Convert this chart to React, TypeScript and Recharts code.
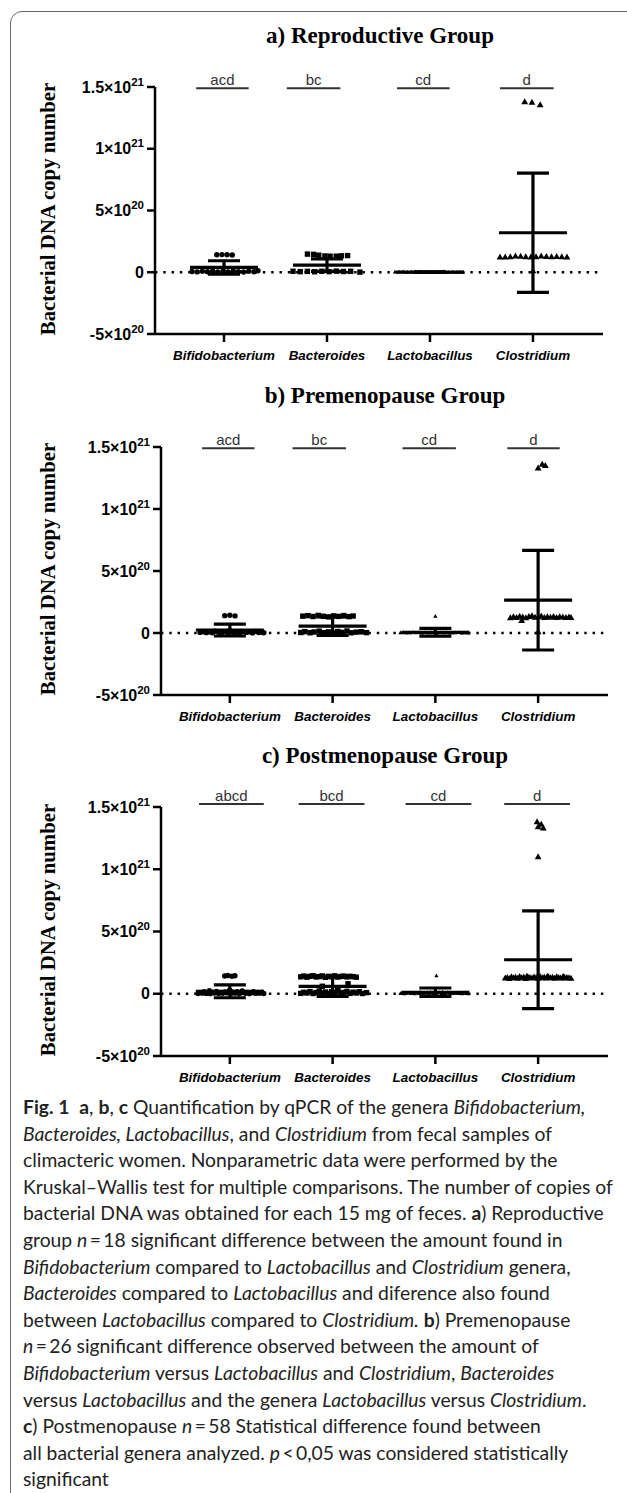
import React from "react";
import { ScatterChart, Scatter, XAxis, YAxis, ErrorBar, ReferenceLine } from "recharts";

type Pt = [number, number]; // [horizontal spread inside the group, copy number]

const GENERA = ["Bifidobacterium", "Bacteroides", "Lactobacillus", "Clostridium"];
const TITLES = ["a) Reproductive Group", "b) Premenopause Group", "c) Postmenopause Group"];
const Y_TICKS = [-5e20, 0, 5e20, 1e21, 1.5e21];

const SIG_A = ["acd", "bc", "cd", "d"];
const SIG_B = ["acd", "bc", "cd", "d"];
const SIG_C = ["abcd", "bcd", "cd", "d"];

// mean and SD per genus
const MEAN_A = [3.9e19, 5.8e19, 0.15e19, 3.2e20];
const SD_A = [5.4e19, 5.1e19, 0.25e19, 4.83e20];
const MEAN_B = [2.4e19, 5.5e19, 0.6e19, 2.65e20];
const SD_B = [4.8e19, 7.5e19, 3.2e19, 4.02e20];
const MEAN_C = [2.0e19, 5.9e19, 1.2e19, 2.73e20];
const SD_C = [5.2e19, 8.0e19, 3.4e19, 3.93e20];

// ---- a) reproductive, n = 18
const BIFIDO_A: Pt[] = [
  [-0.07, 1.42e20], [-0.02, 1.43e20], [0.03, 1.42e20], [0.08, 1.4e20],
  [-0.31, 0.6e19], [-0.26, 0.3e19], [-0.21, 0.9e19], [-0.16, 0.4e19], [-0.11, 1.1e19], [-0.06, 0.2e19],
  [-0.01, 0.8e19], [0.04, 0.3e19], [0.09, 1.0e19], [0.14, 0.5e19], [0.19, 0.2e19], [0.24, 0.9e19],
  [0.29, 0.4e19], [0.33, 1.2e19],
];
const BACTER_A: Pt[] = [
  [-0.19, 1.47e20], [-0.13, 1.45e20], [-0.08, 1.38e20], [-0.02, 1.32e20], [0.03, 1.3e20], [0.09, 1.3e20],
  [0.14, 1.33e20], [0.2, 1.35e20],
  [-0.33, 0.8e19], [-0.26, 0.5e19], [-0.19, 0.7e19], [-0.12, 0.4e19], [-0.05, 0.8e19], [0.02, 0.5e19],
  [0.09, 0.9e19], [0.16, 0.6e19], [0.23, 0.8e19], [0.32, 0.1e19],
];
const LACTO_A: Pt[] = [
  [-0.34, 0.3e19], [-0.3, 0.2e19], [-0.26, 0.5e19], [-0.22, 0.1e19], [-0.18, 0.3e19], [-0.14, 0.2e19],
  [-0.1, 0.4e19], [-0.06, 0.1e19], [-0.02, 0.2e19], [0.02, 0.3e19], [0.06, 0.1e19], [0.1, 0.2e19],
  [0.14, 0.4e19], [0.18, 0.1e19], [0.22, 0.2e19], [0.26, 0.1e19], [0.29, 0.3e19], [0.32, 0.1e19],
];
const CLOST_A: Pt[] = [
  [-0.08, 1.38e21], [-0.01, 1.375e21], [0.07, 1.355e21],
  [-0.32, 1.22e20], [-0.27, 1.22e20], [-0.22, 1.24e20], [-0.17, 1.3e20], [-0.12, 1.28e20], [-0.07, 1.25e20],
  [-0.02, 1.22e20], [0.03, 1.24e20], [0.08, 1.3e20], [0.13, 1.27e20], [0.18, 1.25e20], [0.23, 1.26e20],
  [0.28, 1.24e20], [0.33, 1.22e20],
  [0.0, 1.2e19],
];

// ---- b) premenopause, n = 26
const BIFIDO_B: Pt[] = [
  [-0.05, 1.4e20], [0.0, 1.43e20], [0.05, 1.38e20],
  [-0.29, 0.5e19], [-0.26, 1.2e19], [-0.23, 0.3e19], [-0.2, 0.9e19], [-0.17, 0.2e19], [-0.14, 1.4e19],
  [-0.11, 0.6e19], [-0.08, 0.1e19], [-0.05, 1.0e19], [-0.02, 0.4e19], [0.0, 2.0e19], [0.01, 1.5e19],
  [0.04, 0.3e19], [0.07, 0.8e19], [0.1, 0.2e19], [0.13, 1.1e19], [0.16, 0.5e19], [0.19, 0.9e19],
  [0.22, 0.1e19], [0.25, 1.3e19], [0.28, 0.4e19], [0.31, 0.7e19], [0.33, 0.2e19],
];
const BACTER_B: Pt[] = [
  [-0.29, 1.36e20], [-0.24, 1.4e20], [-0.19, 1.33e20], [-0.14, 1.42e20], [-0.09, 1.35e20], [-0.04, 1.3e20],
  [0.01, 1.38e20], [0.06, 1.34e20], [0.11, 1.41e20], [0.16, 1.32e20], [0.2, 1.37e20],
  [-0.31, 0.4e19], [-0.27, 1.1e19], [-0.22, 0.2e19], [-0.18, 0.8e19], [-0.13, 1.5e19], [-0.09, 0.3e19],
  [-0.04, 0.9e19], [0.0, 0.1e19], [0.05, 1.2e19], [0.09, 0.5e19], [0.14, 1.6e19], [0.18, 0.2e19],
  [0.23, 0.7e19], [0.28, 1.0e19], [0.33, 0.3e19],
];
const LACTO_B: Pt[] = [
  [0.0, 1.36e20],
  [-0.34, 0.2e19], [-0.31, 0.5e19], [-0.28, 0.1e19], [-0.25, 0.3e19], [-0.22, 0.6e19], [-0.19, 0.2e19],
  [-0.16, 0.4e19], [-0.13, 0.1e19], [-0.1, 0.5e19], [-0.07, 0.2e19], [-0.04, 0.3e19], [-0.01, 0.6e19],
  [0.02, 0.1e19], [0.05, 0.4e19], [0.08, 0.2e19], [0.11, 0.5e19], [0.14, 0.1e19], [0.17, 0.3e19],
  [0.2, 0.2e19], [0.23, 0.4e19], [0.26, 0.1e19], [0.28, 0.3e19], [0.3, 0.2e19], [0.31, 0.5e19], [0.32, 0.1e19],
];
const CLOST_B: Pt[] = [
  [0.0, 1.33e21], [0.04, 1.36e21], [0.07, 1.35e21],
  [-0.27, 1.22e20], [-0.24, 1.3e20], [-0.21, 1.25e20], [-0.18, 1.35e20], [-0.15, 1.28e20], [-0.12, 1.22e20],
  [-0.09, 1.32e20], [-0.06, 1.38e20], [-0.03, 1.26e20], [0.0, 1.3e20], [0.03, 1.36e20], [0.06, 1.24e20],
  [0.09, 1.3e20], [0.12, 1.27e20], [0.15, 1.33e20], [0.18, 1.25e20], [0.21, 1.3e20], [0.24, 1.28e20],
  [0.27, 1.24e20], [0.3, 1.29e20], [0.32, 1.25e20],
  [-0.16, 1.0e20], [0.0, 1.0e19],
];

// ---- c) postmenopause, n = 58
const BIFIDO_C: Pt[] = [
  [-0.05, 1.42e20], [-0.02, 1.46e20], [0.02, 1.4e20], [0.05, 1.44e20],
  [-0.31, 0.2e19], [-0.29, 1.1e19], [-0.27, 0.5e19], [-0.25, 1.6e19], [-0.23, 0.3e19], [-0.21, 0.9e19],
  [-0.19, 0.1e19], [-0.17, 1.3e19], [-0.15, 0.6e19], [-0.13, 1.8e19], [-0.11, 0.2e19], [-0.09, 1.0e19],
  [-0.07, 0.4e19], [-0.05, 1.5e19], [-0.03, 0.7e19], [-0.01, 2.1e19], [0.01, 0.3e19], [0.03, 1.2e19],
  [0.05, 0.5e19], [0.07, 1.7e19], [0.09, 0.2e19], [0.11, 0.8e19], [0.13, 1.4e19], [0.15, 0.4e19],
  [0.17, 1.1e19], [0.19, 0.1e19], [0.21, 0.9e19], [0.23, 1.6e19], [0.25, 0.3e19], [0.27, 1.0e19],
  [0.29, 0.5e19], [0.31, 1.3e19], [0.33, 0.2e19], [-0.2, 2.4e19], [0.0, 2.8e19], [0.12, 2.2e19],
];
const BACTER_C: Pt[] = [
  [-0.31, 1.36e20], [-0.28, 1.42e20], [-0.25, 1.33e20], [-0.22, 1.4e20], [-0.19, 1.45e20], [-0.16, 1.35e20],
  [-0.13, 1.38e20], [-0.1, 1.43e20], [-0.07, 1.32e20], [-0.04, 1.4e20], [-0.01, 1.36e20], [0.02, 1.44e20],
  [0.05, 1.34e20], [0.08, 1.39e20], [0.11, 1.42e20], [0.14, 1.35e20], [0.17, 1.4e20], [0.2, 1.37e20],
  [0.23, 1.33e20],
  [-0.1, 0.6e20], [0.05, 0.4e20], [0.15, 0.8e20],
  [-0.31, 0.3e19], [-0.28, 1.2e19], [-0.25, 0.6e19], [-0.22, 1.8e19], [-0.19, 0.2e19], [-0.16, 1.0e19],
  [-0.13, 2.2e19], [-0.1, 0.5e19], [-0.07, 1.4e19], [-0.04, 0.2e19], [-0.01, 1.7e19], [0.02, 0.8e19],
  [0.05, 2.5e19], [0.08, 0.4e19], [0.11, 1.1e19], [0.14, 1.9e19], [0.17, 0.3e19], [0.2, 1.3e19],
  [0.23, 0.6e19], [0.26, 1.6e19], [0.29, 0.2e19], [0.33, 0.9e19],
];
const LACTO_C: Pt[] = [
  [0.01, 1.45e20],
  [-0.34, 0.2e19], [-0.32, 0.6e19], [-0.3, 0.1e19], [-0.28, 0.4e19], [-0.26, 0.8e19], [-0.24, 0.2e19],
  [-0.22, 0.5e19], [-0.2, 0.1e19], [-0.18, 0.7e19], [-0.16, 0.3e19], [-0.14, 0.9e19], [-0.12, 0.2e19],
  [-0.1, 0.5e19], [-0.08, 1.1e19], [-0.06, 0.3e19], [-0.04, 0.6e19], [-0.02, 0.1e19], [0.0, 0.8e19],
  [0.02, 0.4e19], [0.04, 1.0e19], [0.06, 0.2e19], [0.08, 0.6e19], [0.1, 0.3e19], [0.12, 0.9e19],
  [0.14, 0.1e19], [0.16, 0.5e19], [0.18, 0.2e19], [0.2, 0.7e19], [0.22, 0.3e19], [0.24, 0.5e19],
  [0.26, 0.1e19], [0.28, 0.4e19], [0.29, 0.8e19], [0.3, 0.2e19], [0.31, 0.5e19], [0.32, 0.1e19],
  [-0.05, 1.3e19], [0.07, 1.4e19], [-0.15, 1.2e19],
];
const CLOST_C: Pt[] = [
  [-0.01, 1.38e21], [0.03, 1.36e21], [0.0, 1.34e21], [0.05, 1.33e21],
  [0.0, 1.1e21],
  [-0.32, 1.25e20], [-0.3, 1.3e20], [-0.28, 1.22e20], [-0.26, 1.35e20], [-0.24, 1.28e20], [-0.22, 1.32e20],
  [-0.2, 1.24e20], [-0.18, 1.38e20], [-0.16, 1.27e20], [-0.14, 1.33e20], [-0.12, 1.22e20], [-0.1, 1.36e20],
  [-0.08, 1.29e20], [-0.06, 1.25e20], [-0.04, 1.34e20], [-0.02, 1.3e20], [0.0, 1.23e20], [0.02, 1.37e20],
  [0.04, 1.28e20], [0.06, 1.32e20], [0.08, 1.25e20], [0.1, 1.35e20], [0.12, 1.27e20], [0.14, 1.31e20],
  [0.16, 1.24e20], [0.18, 1.36e20], [0.2, 1.29e20], [0.22, 1.26e20], [0.24, 1.33e20], [0.26, 1.25e20],
  [0.28, 1.3e20], [0.3, 1.27e20], [0.32, 1.24e20], [-0.11, 1.4e20], [0.09, 1.39e20], [0.25, 1.38e20],
];

const POINTS = [
  [BIFIDO_A, BACTER_A, LACTO_A, CLOST_A],
  [BIFIDO_B, BACTER_B, LACTO_B, CLOST_B],
  [BIFIDO_C, BACTER_C, LACTO_C, CLOST_C],
];
const MEANS = [MEAN_A, MEAN_B, MEAN_C];
const SDS = [SD_A, SD_B, SD_C];
const SIGS = [SIG_A, SIG_B, SIG_C];

// page layout (pixels) and significance bar extents (in group units)
const LAYOUT = [
  { top: 87, bottom: 334, left: 155, right: 603, titleX: 380, sigY: 1.49e21,
    sigSpan: [[-0.27, 0.24], [-0.39, 0.13], [-0.32, 0.19], [-0.32, 0.2]] },
  { top: 447, bottom: 695, left: 161, right: 608, titleX: 385, sigY: 1.49e21,
    sigSpan: [[-0.27, 0.24], [-0.39, 0.13], [-0.32, 0.2], [-0.3, 0.21]] },
  { top: 807, bottom: 1056, left: 161, right: 608, titleX: 385, sigY: 1.525e21,
    sigSpan: [[-0.3, 0.33], [-0.33, 0.31], [-0.29, 0.35], [-0.33, 0.31]] },
];

const SANS = "'Liberation Sans', Arial, sans-serif";
const SERIF = "'Liberation Serif', 'Times New Roman', serif";

function YTick(props: any) {
  const { x, y, payload } = props;
  const v = payload.value;
  const common = { x, y, dy: 5.5, textAnchor: "end" as const, fontFamily: SANS, fontWeight: "bold", fontSize: 16, fill: "#000" };
  if (v === 0) return <text {...common}>0</text>;
  const exp = Math.floor(Math.log10(Math.abs(v)));
  const mant = Math.round((v / Math.pow(10, exp)) * 10) / 10;
  return (
    <text {...common}>
      <tspan>{`${mant}×10`}</tspan>
      <tspan dy={-7} fontSize={11.5}>{exp}</tspan>
    </text>
  );
}

function XTick(props: any) {
  const { x, y, payload } = props;
  return (
    <text x={x} y={y} dy={16} textAnchor="middle" fontFamily={SANS} fontWeight="bold" fontStyle="italic" fontSize={13.4} fill="#000">
      {GENERA[payload.value - 1]}
    </text>
  );
}

const dot = (p: any) => <circle cx={p.cx} cy={p.cy} r={2.7} fill="#000" />;
const square = (p: any) => <rect x={p.cx - 2.7} y={p.cy - 2.7} width={5.4} height={5.4} fill="#000" />;
const tri = (p: any) => (
  <path d={`M${p.cx},${p.cy - 3.6}L${p.cx + 3.4},${p.cy + 2.4}L${p.cx - 3.4},${p.cy + 2.4}Z`} fill="#000" />
);
const tinyTri = (p: any) => (
  <path d={`M${p.cx},${p.cy - 2.2}L${p.cx + 2.1},${p.cy + 1.5}L${p.cx - 2.1},${p.cy + 1.5}Z`} fill="#000" />
);
const SHAPES = [dot, square, tinyTri, tri];
const meanLine = (p: any) => (
  <line x1={p.cx - 34} x2={p.cx + 34} y1={p.cy} y2={p.cy} stroke="#000" strokeWidth={3.2} />
);

function Panel({ idx }: { idx: number }) {
  const L = LAYOUT[idx];
  const marginTop = 26;
  const height = marginTop + (L.bottom - L.top) + 40;
  const meanData = MEANS[idx].map((m, i) => ({ x: i + 1, y: m, sd: SDS[idx][i] }));
  const axisStroke = { stroke: "#000", strokeWidth: 2.5 };
  return (
    <>
      <div style={{ position: "absolute", left: L.titleX, top: L.top - 44 - 19.5, transform: "translateX(-50%)", whiteSpace: "nowrap",
        fontFamily: SERIF, fontWeight: "bold", fontSize: 23, lineHeight: "23px", color: "#000" }}>
        {TITLES[idx]}
      </div>
      <div style={{ position: "absolute", left: 47, top: (L.top + L.bottom) / 2 - 2, transform: "translate(-50%, -50%) rotate(-90deg)",
        whiteSpace: "nowrap", fontFamily: SERIF, fontWeight: "bold", fontSize: 20.8, lineHeight: "21px", color: "#000" }}>
        Bacterial DNA copy number
      </div>
      <div style={{ position: "absolute", left: 0, top: L.top - marginTop }}>
        <ScatterChart width={627} height={height} margin={{ top: marginTop, right: 627 - L.right, bottom: 0, left: 0 }}>
          <XAxis type="number" dataKey="x" domain={[0.33, 4.68]} ticks={[1, 2, 3, 4]} interval={0} allowDataOverflow height={40}
            tick={<XTick />} tickSize={8} tickMargin={2} axisLine={axisStroke} tickLine={axisStroke} />
          <YAxis type="number" dataKey="y" domain={[-5e20, 1.5e21]} ticks={Y_TICKS} interval={0} allowDataOverflow width={L.left}
            tick={<YTick />} tickSize={8} tickMargin={3} axisLine={axisStroke} tickLine={axisStroke} />
          <ReferenceLine y={0} stroke="#000" strokeWidth={2.4} strokeDasharray="2.4 5.9" />
          {SIGS[idx].map((s, i) => (
            <ReferenceLine key={s + i} ifOverflow="visible" stroke="#333" strokeWidth={2}
              segment={[{ x: i + 1 + L.sigSpan[i][0], y: L.sigY }, { x: i + 1 + L.sigSpan[i][1], y: L.sigY }]}
              label={{ value: s, position: "top", offset: 3, fill: "#333", fontSize: 15, fontFamily: SANS }} />
          ))}
          {POINTS[idx].map((pts, g) => (
            <Scatter key={g} data={pts.map(([o, v]) => ({ x: g + 1 + o, y: v }))} shape={SHAPES[g]} isAnimationActive={false} />
          ))}
          <Scatter data={meanData} shape={meanLine} isAnimationActive={false}>
            <ErrorBar dataKey="sd" direction="y" width={16} strokeWidth={3.2} stroke="#000" />
          </Scatter>
        </ScatterChart>
      </div>
    </>
  );
}

const CAPTION = [
  <><b>Fig. 1</b>&nbsp;&nbsp;<b>a</b>, <b>b</b>, <b>c</b> Quantification by qPCR of the genera <i>Bifidobacterium,</i></>,
  <><i>Bacteroides, Lactobacillus</i>, and <i>Clostridium</i> from fecal samples of</>,
  <>climacteric women. Nonparametric data were performed by the</>,
  <>Kruskal–Wallis test for multiple comparisons. The number of copies of</>,
  <>bacterial DNA was obtained for each 15 mg of feces. <b>a</b>) Reproductive</>,
  <>group <i>n</i>{"\u2009=\u2009"}18 significant difference between the amount found in</>,
  <><i>Bifidobacterium</i> compared to <i>Lactobacillus</i> and <i>Clostridium</i> genera,</>,
  <><i>Bacteroides</i> compared to <i>Lactobacillus</i> and diference also found</>,
  <>between <i>Lactobacillus</i> compared to <i>Clostridium.</i> <b>b</b>) Premenopause</>,
  <><i>n</i>{"\u2009=\u2009"}26 significant difference observed between the amount of</>,
  <><i>Bifidobacterium</i> versus <i>Lactobacillus</i> and <i>Clostridium</i>, <i>Bacteroides</i></>,
  <>versus <i>Lactobacillus</i> and the genera <i>Lactobacillus</i> versus <i>Clostridium</i>.</>,
  <><b>c</b>) Postmenopause <i>n</i>{"\u2009=\u2009"}58 Statistical difference found between</>,
  <>all bacterial genera analyzed. <i>p</i>{"\u2009<\u2009"}0,05 was considered statistically</>,
  <>significant</>,
];

export default function App() {
  return (
    <div style={{ position: "absolute", left: 0, top: 0, width: 627, height: 1493, overflow: "hidden", background: "#fff" }}>
      <div style={{ position: "absolute", left: 10, top: 11, width: 640, height: 1500, border: "1.5px solid #666", borderRadius: 12 }} />
      {[0, 1, 2].map((i) => <Panel key={i} idx={i} />)}
      <div style={{ position: "absolute", left: 23, top: 1094, fontFamily: "Lato, 'Noto Sans', sans-serif", fontSize: 19.3, lineHeight: "26.6px", color: "#222" }}>
        {CAPTION.map((l, i) => <div key={i} style={{ whiteSpace: "nowrap" }}>{l}</div>)}
      </div>
    </div>
  );
}
